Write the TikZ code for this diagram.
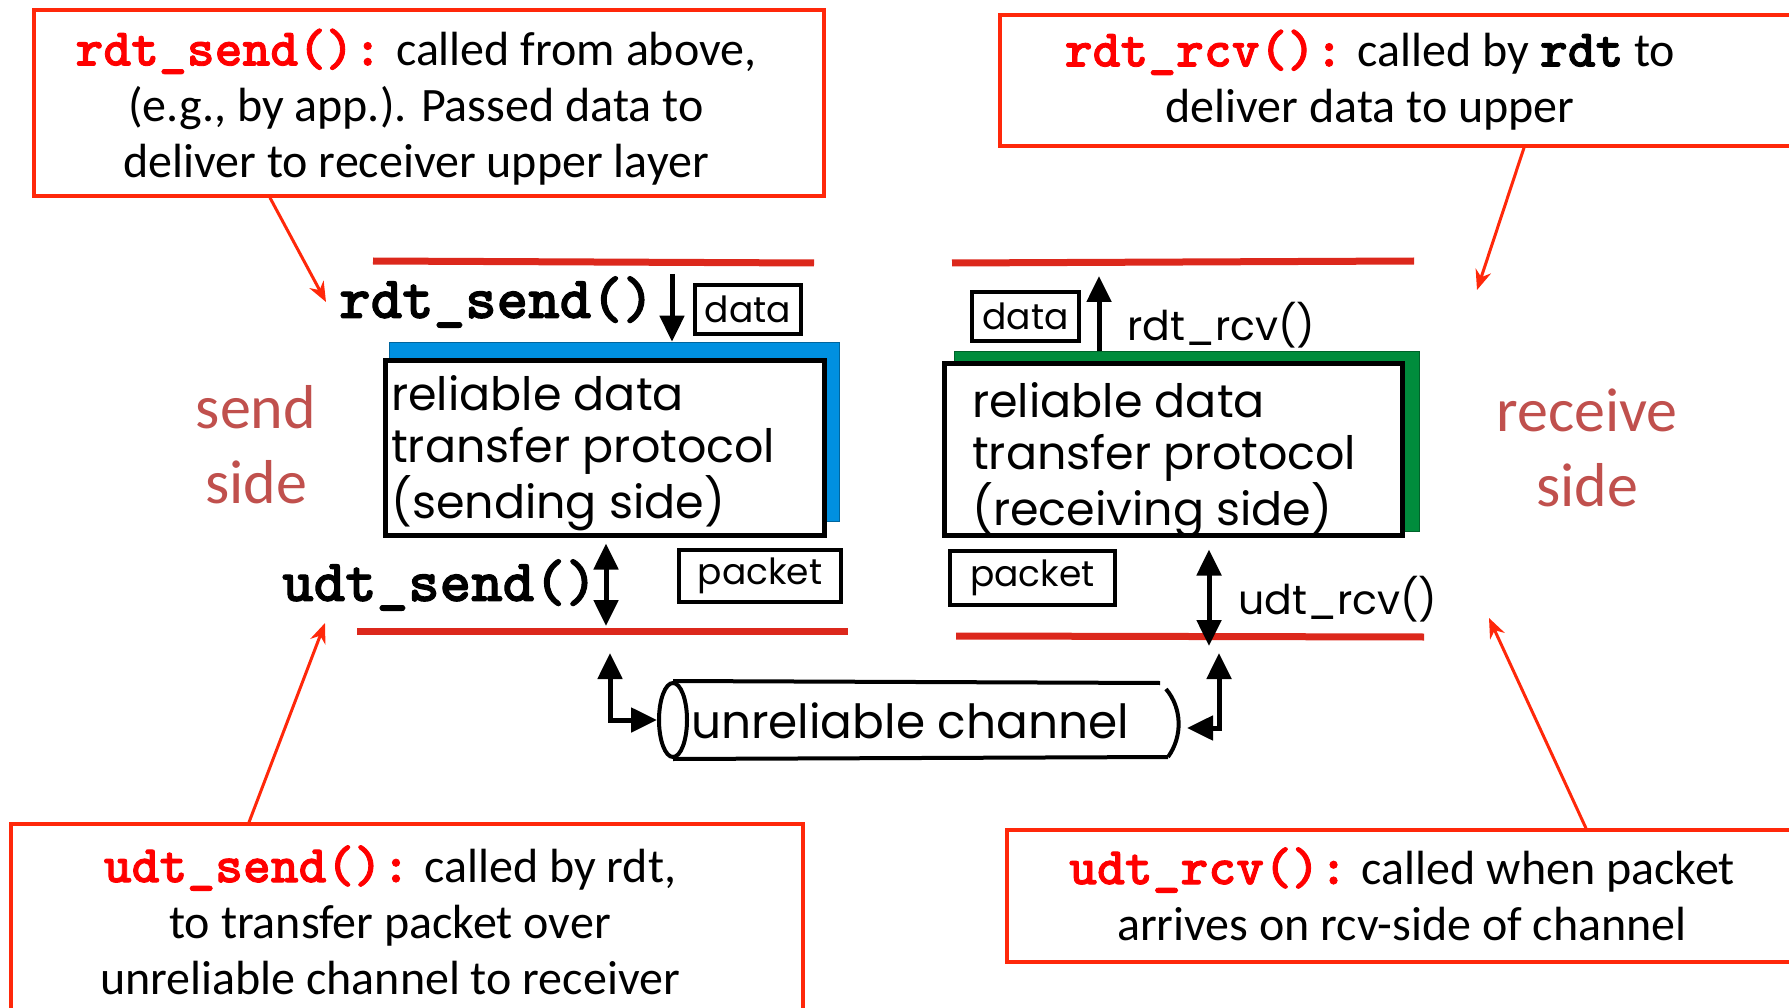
\documentclass[tikz,border=0pt]{standalone}
\usepackage{fontspec}
\setmainfont{Carlito}
\newfontfamily\geof{Poppins}
\newfontfamily\codef{lmmonolt10-bold.otf}[FakeBold=1.6]
\usetikzlibrary{arrows.meta,shapes.geometric}
\definecolor{calloutred}{RGB}{255,40,10}
\definecolor{codered}{RGB}{255,0,0}
\definecolor{layerred}{RGB}{220,40,28}
\definecolor{sidered}{RGB}{192,80,77}
\definecolor{sendblue}{RGB}{0,144,224}
\definecolor{rcvgreen}{RGB}{0,140,60}
\newcommand{\redcode}[1]{{\codef\fontsize{53}{56}\selectfont\color{codered}#1}}
\newcommand{\blackcode}[1]{{\codef\fontsize{53}{56}\selectfont#1}}
\begin{document}
\begin{tikzpicture}[x=1pt,y=-1pt,
  calloutbox/.style={draw=calloutred,line width=3.5pt,inner sep=0pt},
  callouttext/.style={align=center,inner sep=0pt,font=\fontsize{48}{56}\selectfont},
  callarrow/.style={draw=calloutred,line width=3pt,-{Stealth[width=16pt,length=20pt]}},
  layer/.style={draw=layerred,line width=7pt},
  blackarrow/.style={line width=5pt,-{Triangle[width=24pt,length=26pt]}},
  dblarrow/.style={line width=5pt,{Triangle[width=24pt,length=26pt]}-{Triangle[width=24pt,length=26pt]}},
  codelabel/.style={inner sep=0pt,font=\codef\fontsize{60}{60}\selectfont},
  geolabel/.style={inner sep=0pt,font=\geof\fontsize{46}{52.5}\selectfont},
  smalllabel/.style={inner sep=0pt,font=\geof\fontsize{41}{41}\selectfont},
  smallbox/.style={draw,line width=4.5pt,inner sep=0pt,font=\geof\fontsize{36}{36}\selectfont},
  protobox/.style={draw,line width=5pt,fill=white,inner sep=0pt},
  sidelabel/.style={align=center,inner sep=0pt,text=sidered,font=\fontsize{62}{75}\selectfont}]
\useasboundingbox (0,0) rectangle (1789,1008);

% ---- callout boxes
\node[calloutbox,minimum width=790pt,minimum height=186pt] (tlbox) at (429,103) {};
\node[callouttext] (tltext) at (416,107) {\redcode{rdt\_send():} called from above,\\(e.g., by app.). Passed data to\\deliver to receiver upper layer};

\node[calloutbox,minimum width=820pt,minimum height=131pt] (trbox) at (1410,80.5) {};
\node[callouttext] (trtext) at (1370,80) {\redcode{rdt\_rcv():} called by \blackcode{rdt} to\\deliver data to upper};

\node[calloutbox,minimum width=792pt,minimum height=206pt] (blbox) at (407,927) {};
\node[callouttext] (bltext) at (390,920) {\redcode{udt\_send():} called by rdt,\\to transfer packet over\\unreliable channel to receiver};

\node[calloutbox,minimum width=813pt,minimum height=132pt] (brbox) at (1413.5,896) {};
\node[callouttext] (brtext) at (1402,894) {\redcode{udt\_rcv():} called when packet\\arrives on rcv-side of channel};

% ---- side labels
\node[sidelabel] (sendside) at (256,445) {send\\side};
\node[sidelabel] (rcvside) at (1587,448) {receive\\side};

% ---- layer lines
\draw[layer] (373,261) -- (814,263);
\draw[layer] (357,631) -- (848,631);
\draw[layer] (952,263) -- (1414,261);
\draw[layer] (956,636) -- (1424,637);

% ---- send side
\node[codelabel,anchor=west] (rdtsend) at (339,302) {rdt\_send()};
\node[fill=sendblue,draw=sendblue!70!black,line width=0.6pt,minimum width=450pt,minimum height=179pt,inner sep=0pt] (sendsh) at (614,431.5) {};
\node[protobox,minimum width=439pt,minimum height=174pt] (sendbox) at (604.5,448) {};
\node[geolabel,align=left,anchor=north west] (sendtxt) at (391,375) {reliable data\\transfer protocol\\(sending side)};
\node[smallbox,minimum width=106pt,minimum height=49pt] (senddata) at (748,309.5) {data};
\node[codelabel,anchor=west] (udtsend) at (282,585) {udt\_send()};
\node[smallbox,minimum width=162pt,minimum height=52pt] (sendpkt) at (760,576) {packet};
\coordinate (sdtop) at (672,274);
\draw[blackarrow] (sdtop) -- (sendsh.north -| sdtop);
\coordinate (sdlow) at (606,626);
\draw[dblarrow] (sendbox.south -| sdlow) ++(0,6) -- (sdlow);

% ---- channel
\node[ellipse,draw,line width=4pt,minimum width=28pt,minimum height=74pt,inner sep=0pt] (chanL) at (673,720) {};
\draw[line width=4pt] (chanL.north) -- (1160,683);
\draw[line width=4pt] (chanL.south) -- (1168,757);
\draw[line width=4pt] (1166,689) .. controls (1182,708) and (1183,736) .. (1168,757);
\node[inner sep=0pt,font=\geof\fontsize{47}{47}\selectfont] (chan) at (910,721) {unreliable channel};
\coordinate (lfree) at (610,653);
\draw[dblarrow] (lfree) |- (chanL.west);
\coordinate (rfree) at (1219,653);
\coordinate (rtip) at (1187,728);
\draw[dblarrow] (rfree) |- (rtip);

% ---- receive side
\node[fill=rcvgreen,draw=rcvgreen!70!black,line width=0.6pt,minimum width=465pt,minimum height=180pt,inner sep=0pt] (rcvsh) at (1186.5,441) {};
\node[protobox,minimum width=458pt,minimum height=171pt] (rcvbox) at (1173,449.5) {};
\node[geolabel,align=left,anchor=north west] (rcvtxt) at (972,382) {reliable data\\transfer protocol\\(receiving side)};
\node[smallbox,minimum width=107pt,minimum height=49pt] (rcvdata) at (1025.5,316.5) {data};
\node[smalllabel,anchor=west] (rdtrcv) at (1127,325) {rdt\_rcv()};
\coordinate (rutop) at (1099,276);
\draw[blackarrow] (rcvsh.north -| rutop) -- (rutop);
\node[smallbox,minimum width=165pt,minimum height=54pt] (rcvpkt) at (1032.5,578) {packet};
\node[smalllabel,anchor=west] (udtrcv) at (1238,599) {udt\_rcv()};
\coordinate (rdlow) at (1209,646);
\draw[dblarrow] (rcvbox.south -| rdlow) ++(0,12) -- (rdlow);

% ---- callout arrows
\coordinate (tlfrom) at (270,196);
\coordinate (tltip) at (326,302);
\draw[callarrow] (tlbox.south -| tlfrom) -- (tltip);
\coordinate (trfrom) at (1524,146);
\coordinate (trtip) at (1477,290);
\draw[callarrow] (trbox.south -| trfrom) -- (trtip);
\coordinate (blfrom) at (249,824);
\coordinate (bltip) at (325,623);
\draw[callarrow] (blbox.north -| blfrom) -- (bltip);
\coordinate (brfrom) at (1586,830);
\coordinate (brtip) at (1489,618);
\draw[callarrow] (brbox.north -| brfrom) -- (brtip);
\end{tikzpicture}
\end{document}
